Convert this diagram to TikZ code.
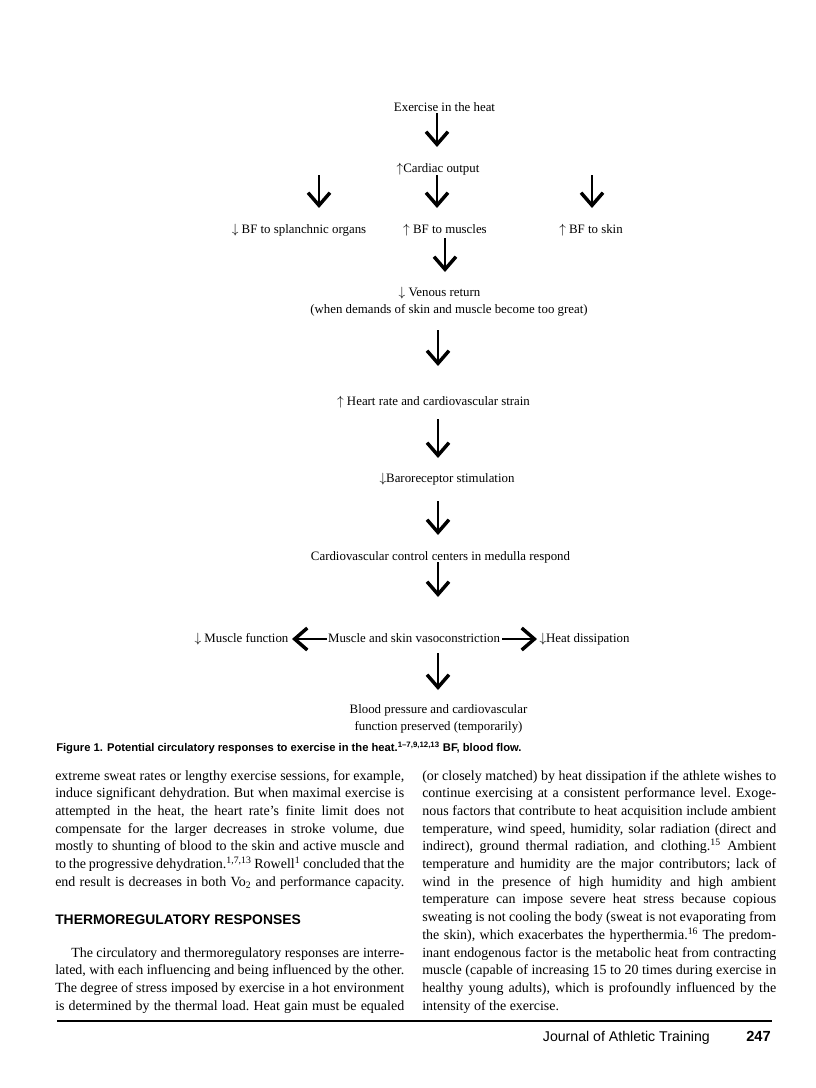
\documentclass[tikz,border=0pt]{standalone}
\usepackage{fontspec}
\setmainfont{Liberation Serif}
\setsansfont{Liberation Sans}
\usetikzlibrary{arrows.meta,calc}
\newcommand\bodyfont{\fontsize{10.5}{13.275}\selectfont\frenchspacing\spaceskip=2.625pt plus 4pt minus 1pt\relax}
\newcommand\JL[1]{\hbox to\hsize{#1}}
\newcommand\UpA{$\uparrow$}
\newcommand\DnA{$\downarrow$}
\begin{document}
\begin{tikzpicture}[x=0.75pt,y=-0.75pt,
  lbl/.style={font=\fontsize{9.65}{12.75}\selectfont, inner sep=0pt, anchor=base},
  arr/.style={line width=1.8pt, -{Straight Barb[length=9.5pt,width=16.5pt,line width=2.6pt]}},
  body/.style={inner sep=0pt, anchor=base west},
]
\useasboundingbox (0,0) rectangle (816,1088);
\fill[white] (0,0) rectangle (816,1088);

% ---- flow chart ----
\node[lbl] (ex)  at (444.5,111.5) {Exercise in the heat};
\node[lbl] (co)  at (438,172.5)   {\UpA Cardiac output};
\node[lbl] (sp)  at (299,233.5)   {\DnA{} BF to splanchnic organs};
\node[lbl] (mu)  at (445,233.5)   {\UpA{} BF to muscles};
\node[lbl] (sk)  at (591,233.5)   {\UpA{} BF to skin};
\node[lbl] (vr)  at (439.5,296.5) {\DnA{} Venous return};
\node[lbl] (vr2) at (449,313.5)   {(when demands of skin and muscle become too great)};
\node[lbl] (hr)  at (433.5,405.5) {\UpA{} Heart rate and cardiovascular strain};
\node[lbl] (br)  at (447,482.5)   {\DnA Baroreceptor stimulation};
\node[lbl] (cc)  at (440.5,560.5) {Cardiovascular control centers in medulla respond};
\node[lbl] (mf)  at (241.5,642.5) {\DnA{} Muscle function};
\node[lbl] (vc)  at (414,642.5)   {Muscle and skin vasoconstriction};
\node[lbl] (hd)  at (584.5,642.5) {\DnA Heat dissipation};
\node[lbl, anchor=center, align=center] (bp) at (438.5,719) {Blood pressure and cardiovascular\\function preserved (temporarily)};

\draw[arr] ($(ex.base)+(-7.5,1.5)$)  -- ($(co.base)+(-1,-25.5)$);
\draw[arr] ($(co.base)+(-119,2.5)$)  -- ($(sp.base)+(20,-25.5)$);
\draw[arr] ($(co.base)+(-1,2.5)$)    -- ($(mu.base)+(-8,-25.5)$);
\draw[arr] ($(co.base)+(154,2.5)$)   -- ($(sk.base)+(1,-25.5)$);
\draw[arr] ($(mu.base)+(0,4.5)$)     -- ($(vr.base)+(5.5,-24.5)$);
\draw[arr] ($(vr2.base)+(-11,16.5)$) -- ($(hr.base)+(4.5,-39.5)$);
\draw[arr] ($(hr.base)+(4.5,13.5)$)  -- ($(br.base)+(-9,-24.5)$);
\draw[arr] ($(br.base)+(-9,18.5)$)   -- ($(cc.base)+(-2.5,-25.5)$);
\draw[arr] ($(cc.base)+(-2.5,1.5)$)  -- ($(vc.base)+(24,-45.5)$);
\draw[arr] ($(vc.base)+(24,10.5)$)   -- ($(bp.center)+(-0.5,-29)$);
\draw[arr] ($(vc.base)+(-87,-3.5)$)  -- ($(mf.base)+(50.5,-3.5)$);
\draw[arr] ($(vc.base)+(88,-3.5)$)   -- ($(hd.base)+(-47.5,-3.5)$);

% ---- caption ----
\node[body, font=\sffamily\bfseries\fontsize{8.4}{10}\selectfont] (cap) at (56,751)
  {Figure 1. Potential circulatory responses to exercise in the heat.\textsuperscript{1–7,9,12,13} BF, blood flow.};

% ---- left column ----
\node[body] (lc) at (55,780) {\vtop{\hsize=261.75pt\bodyfont
\JL{extreme sweat rates or lengthy exercise sessions, for example,}
\JL{induce significant dehydration. But when maximal exercise is}
\JL{attempted in the heat, the heart rate’s finite limit does not}
\JL{compensate for the larger decreases in stroke volume, due}
\JL{mostly to shunting of blood to the skin and active muscle and}
\JL{to the progressive dehydration.\textsuperscript{1,7,13} Rowell\textsuperscript{1} concluded that the}
\JL{end result is decreases in both Vo\textsubscript{2} and performance capacity.}
}};

\node[body, font=\sffamily\bfseries\fontsize{10.4}{12}\selectfont] (hdg) at (55,924) {THERMOREGULATORY RESPONSES};

\node[body] (lp) at (55,957) {\vtop{\hsize=261.75pt\bodyfont
\JL{\kern12pt The circulatory and thermoregulatory responses are interre-}
\JL{lated, with each influencing and being influenced by the other.}
\JL{The degree of stress imposed by exercise in a hot environment}
\JL{is determined by the thermal load. Heat gain must be equaled}
}};

% ---- right column ----
\node[body] (rc) at (422,780) {\vtop{\hsize=265.5pt\bodyfont
\JL{(or closely matched) by heat dissipation if the athlete wishes to}
\JL{continue exercising at a consistent performance level. Exoge-}
\JL{nous factors that contribute to heat acquisition include ambient}
\JL{temperature, wind speed, humidity, solar radiation (direct and}
\JL{indirect), ground thermal radiation, and clothing.\textsuperscript{15} Ambient}
\JL{temperature and humidity are the major contributors; lack of}
\JL{wind in the presence of high humidity and high ambient}
\JL{temperature can impose severe heat stress because copious}
\JL{sweating is not cooling the body (sweat is not evaporating from}
\JL{the skin), which exacerbates the hyperthermia.\textsuperscript{16} The predom-}
\JL{inant endogenous factor is the metabolic heat from contracting}
\JL{muscle (capable of increasing 15 to 20 times during exercise in}
\JL{healthy young adults), which is profoundly influenced by the}
\JL{intensity of the exercise.\hfil}
}};

% ---- footer ----
\draw[line width=1.6pt] (57,1021) -- (772,1021);
\node[body, anchor=base east, font=\sffamily\fontsize{10.6}{12}\selectfont] (jn) at (710,1041) {Journal of Athletic Training};
\node[body, anchor=base east, font=\sffamily\bfseries\fontsize{11}{12}\selectfont] (pg) at (771,1041) {247};
\end{tikzpicture}
\end{document}
